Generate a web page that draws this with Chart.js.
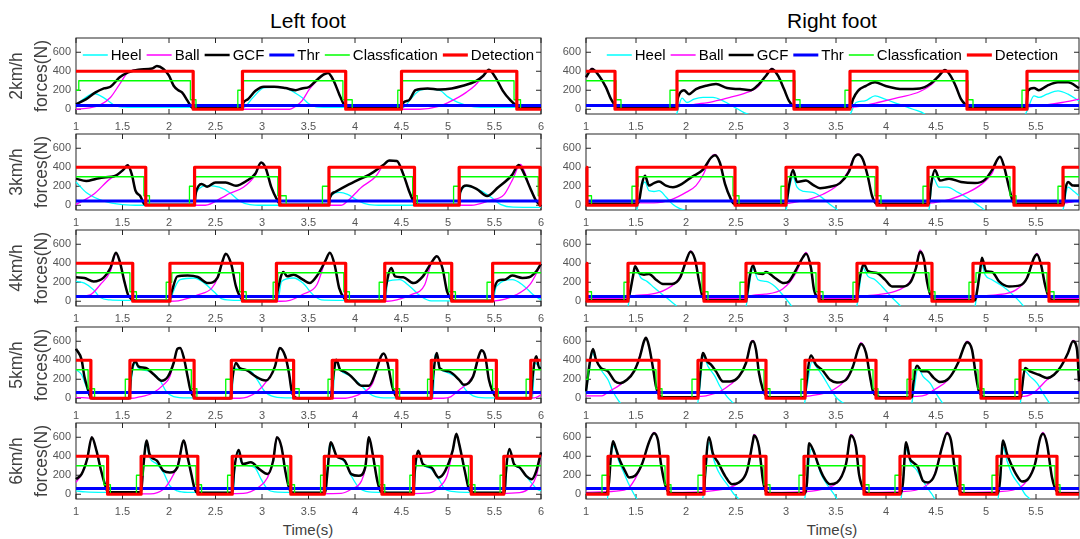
<!DOCTYPE html>
<html>
<head>
<meta charset="utf-8">
<script src="https://cdn.jsdelivr.net/npm/chart.js@4.4.1/dist/chart.umd.min.js"></script>
<style>
  body { margin: 0; background: #fff; width: 1080px; height: 539px; position: relative; overflow: hidden;
         font-family: "Liberation Sans", Arial, Helvetica, sans-serif; }
  .panel { position: absolute; }
  .lbl { position: absolute; white-space: nowrap; transform: translate(-50%, -50%); }
</style>
</head>
<body>
<div class="lbl" style="left:308px; top:21px; font-size:21px; color:#000;">Left foot</div>
<div class="lbl" style="left:832px; top:21px; font-size:21px; color:#000;">Right foot</div>
<div class="lbl" style="left:308px; top:529px; font-size:15px; color:#404040;">Time(s)</div>
<div class="lbl" style="left:832px; top:529px; font-size:15px; color:#404040;">Time(s)</div>
<div id="wrap"></div>
<script>
const FONT = '"Liberation Sans", Arial, Helvetica, sans-serif';

// axis ticks and row labels
const xTicks = [1, 1.5, 2, 2.5, 3, 3.5, 4, 4.5, 5, 5.5, 6];
const yTicks = [0, 200, 400, 600];
const speeds = ["2km/h", "3km/h", "4km/h", "5km/h", "6km/h"];
const thrLeft = [40, 45, 50, 60, 60];
const thrRight = [40, 45, 50, 60, 60];

// ---------- Left foot, 2km/h ----------
const heelL2 = [[1.0,50],[1.1,120],[1.19,166],[1.3,120],[1.4,50],[1.47,25],[1.6,20],[2.8,20],[2.9,120],[3.02,225],[3.15,230],[3.27,218],[3.36,170],[3.43,124],[3.5,60],[3.58,25],[3.7,20],[4.52,20],[4.6,110],[4.7,200],[4.8,212],[4.92,195],[5.0,130],[5.1,75],[5.25,30],[5.4,20],[6,20]];
const ballL2 = [[1.0,0],[1.15,15],[1.26,46],[1.37,124],[1.47,265],[1.56,389],[1.67,417],[1.82,428],[1.87,455],[1.94,424],[2.0,353],[2.05,247],[2.1,201],[2.14,177],[2.2,88],[2.25,15],[2.3,0],[3.3,0],[3.36,30],[3.43,88],[3.51,212],[3.58,290],[3.66,360],[3.71,380],[3.77,300],[3.83,159],[3.88,53],[3.94,5],[4.0,0],[4.7,0],[4.9,30],[5.0,70],[5.12,130],[5.2,180],[5.29,250],[5.38,350],[5.44,410],[5.51,336],[5.59,194],[5.67,95],[5.74,35],[5.8,5],[6,0]];
const gcfL2 = [[1.0,53],[1.11,106],[1.21,177],[1.3,219],[1.37,237],[1.47,336],[1.56,389],[1.67,417],[1.82,428],[1.87,455],[1.94,424],[2.0,353],[2.05,247],[2.1,201],[2.14,177],[2.2,88],[2.25,18],[2.3,10],[2.78,10],[2.8,70],[2.85,106],[2.93,194],[3.02,237],[3.13,237],[3.25,223],[3.36,201],[3.43,219],[3.51,237],[3.58,300],[3.66,364],[3.71,382],[3.77,300],[3.83,159],[3.88,53],[3.94,11],[4.0,10],[4.5,10],[4.52,70],[4.58,95],[4.65,201],[4.78,219],[4.91,208],[5.04,219],[5.16,247],[5.29,290],[5.38,353],[5.44,415],[5.51,336],[5.59,194],[5.67,95],[5.74,35],[5.8,11],[6,10]];
const clsL2 = [[1.0,200],[1.03,300],[2.23,100],[2.29,0],[2.74,200],[2.80,300],[3.87,100],[3.97,0],[4.46,200],[4.51,300],[5.71,100],[5.78,0]];
const detL2 = [[1.0,400],[2.26,0],[2.79,400],[3.90,0],[4.50,400],[5.74,0]];

// ---------- Left foot, 3km/h ----------
const heelL3 = [[1.0,245],[1.11,135],[1.3,44],[1.5,7],[1.7,0],[2.27,0],[2.29,135],[2.43,207],[2.54,190],[2.65,135],[2.76,44],[2.87,7],[3.0,0],[3.72,0],[3.73,73],[3.83,135],[3.92,115],[4.04,44],[4.15,7],[4.3,0],[5.12,0],[5.13,115],[5.2,200],[5.35,155],[5.46,87],[5.57,7],[5.7,-20],[6,-22]];
const ballL3 = [[1.0,7],[1.19,115],[1.37,280],[1.45,320],[1.51,375],[1.555,425],[1.6,325],[1.64,153],[1.69,98],[1.74,7],[1.8,0],[2.39,0],[2.57,80],[2.65,124],[2.8,190],[2.93,320],[2.99,450],[3.04,390],[3.1,190],[3.16,62],[3.2,5],[3.3,0],[3.85,0],[3.92,44],[4.07,190],[4.22,300],[4.3,415],[4.37,465],[4.45,465],[4.52,325],[4.58,153],[4.64,25],[4.7,0],[5.25,0],[5.45,51],[5.6,109],[5.69,262],[5.78,430],[5.82,360],[5.88,190],[5.95,44],[6,-10]];
const gcfL3 = [[1.0,280],[1.11,255],[1.22,280],[1.32,295],[1.41,305],[1.51,375],[1.555,420],[1.6,325],[1.64,153],[1.69,98],[1.74,7],[1.8,5],[2.27,5],[2.29,135],[2.35,225],[2.41,195],[2.5,240],[2.61,240],[2.72,205],[2.84,260],[2.93,335],[2.99,450],[3.04,390],[3.1,190],[3.16,62],[3.2,7],[3.25,5],[3.72,5],[3.73,80],[3.79,142],[3.91,207],[4.04,270],[4.15,320],[4.3,420],[4.37,470],[4.45,465],[4.52,325],[4.58,153],[4.64,25],[4.7,5],[5.12,5],[5.13,135],[5.2,207],[5.31,170],[5.42,98],[5.54,190],[5.69,320],[5.76,425],[5.8,370],[5.88,190],[5.95,44],[6.0,-10]];
const clsL3 = [[1,300],[1.73,100],[1.79,0],[2.22,200],[2.28,300],[3.17,100],[3.26,0],[3.65,200],[3.72,300],[4.62,100],[4.67,0],[5.06,200],[5.12,300],[5.97,100]];
const detL3 = [[1,400],[1.75,0],[2.275,400],[3.19,0],[3.72,400],[4.64,0],[5.12,400],[5.99,0]];

// ---------- Left foot, 4km/h ----------
const heelL4 = [[1.0,209],[1.09,191],[1.19,120],[1.26,39],[1.37,14],[1.5,10],[2.02,10],[2.04,85],[2.12,227],[2.27,245],[2.38,191],[2.48,103],[2.57,25],[2.7,10],[3.17,10],[3.21,209],[3.34,245],[3.44,191],[3.55,67],[3.64,14],[3.8,10],[4.33,10],[4.35,209],[4.48,227],[4.59,156],[4.71,50],[4.82,4],[5.0,5],[5.48,5],[5.52,156],[5.69,227],[5.8,174],[5.91,74],[6.0,14]];
const ballL4 = [[1.0,50],[1.15,67],[1.26,174],[1.37,316],[1.43,505],[1.47,420],[1.52,209],[1.56,67],[1.61,10],[1.7,0],[2.0,0],[2.1,5],[2.31,67],[2.46,138],[2.52,240],[2.57,400],[2.61,500],[2.67,387],[2.72,156],[2.78,25],[2.85,0],[3.2,0],[3.3,10],[3.44,74],[3.59,174],[3.68,420],[3.73,510],[3.78,387],[3.83,138],[3.89,25],[3.95,0],[4.35,0],[4.45,15],[4.6,67],[4.75,174],[4.82,400],[4.88,475],[4.94,350],[4.99,103],[5.03,25],[5.08,0],[5.5,5],[5.73,67],[5.88,174],[6.0,387]];
const gcfL4 = [[1.0,252],[1.09,245],[1.19,209],[1.3,252],[1.37,350],[1.43,510],[1.47,420],[1.52,209],[1.56,67],[1.61,14],[1.65,5],[2.0,5],[2.03,103],[2.09,262],[2.2,270],[2.31,255],[2.42,191],[2.52,245],[2.57,404],[2.61,500],[2.67,387],[2.72,156],[2.78,25],[2.82,5],[3.15,5],[3.17,120],[3.23,309],[3.27,262],[3.34,280],[3.44,227],[3.51,191],[3.6,280],[3.68,422],[3.73,510],[3.78,387],[3.83,138],[3.89,25],[3.93,5],[4.31,5],[4.33,138],[4.39,350],[4.43,262],[4.52,252],[4.63,191],[4.73,262],[4.82,404],[4.88,475],[4.94,350],[4.99,103],[5.03,25],[5.07,5],[5.47,5],[5.49,110],[5.54,216],[5.61,227],[5.69,270],[5.8,245],[5.87,252],[5.95,316],[6.0,394]];
const clsL4 = [[1,300],[1.58,100],[1.65,0],[1.97,200],[2.03,300],[2.76,100],[2.83,0],[3.12,200],[3.17,300],[3.88,100],[3.94,0],[4.26,200],[4.33,300],[5.01,100],[5.08,0],[5.42,200],[5.48,300]];
const detL4 = [[1,400],[1.61,0],[2.01,400],[2.79,0],[3.155,400],[3.90,0],[4.32,400],[5.04,0],[5.48,400]];

// ---------- Left foot, 5km/h ----------
const heelL5 = [[1.0,300],[1.06,250],[1.1,150],[1.15,20],[1.2,3],[1.58,3],[1.6,230],[1.64,371],[1.67,318],[1.79,283],[1.9,194],[1.97,71],[2.05,18],[2.2,5],[2.68,5],[2.69,318],[2.76,300],[2.88,283],[2.95,194],[3.03,71],[3.1,25],[3.25,5],[3.76,5],[3.79,406],[3.84,300],[3.96,230],[4.07,131],[4.15,53],[4.22,18],[4.35,5],[4.84,5],[4.86,460],[4.91,318],[5.01,265],[5.12,194],[5.19,88],[5.27,25],[5.4,5],[5.91,5],[5.93,371],[6.0,318]];
const ballL5 = [[1.0,10],[1.2,0],[1.6,0],[1.67,11],[1.82,53],[1.94,141],[2.01,230],[2.05,371],[2.09,520],[2.12,530],[2.16,424],[2.2,230],[2.23,88],[2.27,11],[2.3,0],[2.76,0],[2.84,11],[2.95,71],[3.06,194],[3.14,336],[3.19,530],[3.25,442],[3.29,265],[3.32,71],[3.36,7],[3.4,0],[3.9,0],[3.96,11],[4.07,53],[4.19,159],[4.25,350],[4.31,470],[4.35,371],[4.4,124],[4.45,11],[4.5,0],[4.95,0],[5.02,11],[5.12,88],[5.21,159],[5.29,280],[5.36,505],[5.4,442],[5.44,194],[5.48,71],[5.52,11],[5.56,0],[5.93,5],[6.0,35]];
const gcfL5 = [[1.0,520],[1.06,406],[1.09,230],[1.13,88],[1.16,5],[1.2,0],[1.57,0],[1.59,230],[1.64,389],[1.67,336],[1.75,318],[1.84,247],[1.92,184],[1.99,230],[2.05,371],[2.09,520],[2.12,530],[2.16,424],[2.2,230],[2.23,88],[2.27,11],[2.3,0],[2.66,0],[2.68,194],[2.72,371],[2.76,318],[2.84,293],[2.93,230],[3.04,187],[3.14,336],[3.19,530],[3.25,442],[3.29,265],[3.32,71],[3.36,7],[3.4,0],[3.74,0],[3.76,177],[3.8,406],[3.84,300],[3.88,283],[3.96,230],[4.07,131],[4.15,131],[4.22,265],[4.28,442],[4.31,470],[4.35,371],[4.4,124],[4.45,11],[4.5,0],[4.82,0],[4.84,230],[4.88,477],[4.91,318],[5.01,283],[5.12,194],[5.17,141],[5.27,230],[5.33,442],[5.36,505],[5.4,442],[5.44,194],[5.48,71],[5.52,11],[5.56,0],[5.89,0],[5.91,230],[5.95,442],[5.98,318],[6.0,318]];
const clsL5 = [[1,300],[1.13,100],[1.20,0],[1.53,200],[1.59,300],[2.24,100],[2.30,0],[2.61,200],[2.68,300],[3.34,100],[3.40,0],[3.71,200],[3.77,300],[4.41,100],[4.48,0],[4.78,200],[4.84,300],[5.48,100],[5.54,0],[5.84,200],[5.90,300]];
const detL5 = [[1,400],[1.16,0],[1.58,400],[2.27,0],[2.67,400],[3.34,0],[3.755,400],[4.45,0],[4.82,400],[5.52,0],[5.89,400]];

// ---------- Left foot, 6km/h ----------
const heelL6 = [[1.0,35],[1.1,25],[1.3,20],[1.7,20],[1.72,247],[1.75,548],[1.79,389],[1.87,318],[1.94,230],[2.01,88],[2.09,35],[2.2,20],[2.69,20],[2.71,300],[2.73,442],[2.79,318],[2.92,283],[2.99,159],[3.06,53],[3.14,25],[3.3,20],[3.68,20],[3.7,250],[3.73,530],[3.8,406],[3.89,336],[3.96,194],[4.04,71],[4.15,25],[4.3,20],[4.63,20],[4.65,250],[4.68,442],[4.73,318],[4.82,265],[4.9,159],[4.97,53],[5.09,25],[5.25,20],[5.61,20],[5.63,250],[5.66,459],[5.71,318],[5.78,265],[5.88,141],[5.96,53],[6.0,35]];
const ballL6 = [[1.0,124],[1.06,212],[1.12,371],[1.17,600],[1.22,459],[1.27,247],[1.31,106],[1.34,25],[1.45,7],[1.8,5],[1.94,53],[2.01,141],[2.09,300],[2.16,565],[2.2,389],[2.24,212],[2.27,78],[2.3,15],[2.4,5],[2.8,10],[2.96,71],[3.06,177],[3.12,353],[3.16,600],[3.21,495],[3.25,247],[3.29,71],[3.32,15],[3.4,5],[3.85,10],[3.96,53],[4.07,141],[4.11,270],[4.15,600],[4.19,424],[4.24,141],[4.28,25],[4.35,5],[4.8,15],[4.9,71],[4.99,194],[5.05,459],[5.09,636],[5.12,530],[5.18,247],[5.22,71],[5.25,20],[5.3,5],[5.77,18],[5.88,71],[5.95,194],[6.0,424]];
const gcfL6 = [[1.0,159],[1.06,212],[1.12,371],[1.17,600],[1.22,459],[1.27,247],[1.31,106],[1.34,28],[1.4,20],[1.7,20],[1.72,247],[1.76,565],[1.79,424],[1.87,353],[1.94,247],[2.01,230],[2.09,283],[2.16,565],[2.2,389],[2.24,212],[2.27,78],[2.3,18],[2.35,15],[2.68,15],[2.7,247],[2.75,466],[2.79,318],[2.88,336],[2.97,265],[3.06,212],[3.12,353],[3.16,600],[3.21,495],[3.25,247],[3.29,71],[3.32,18],[3.4,15],[3.68,15],[3.7,194],[3.74,548],[3.8,406],[3.89,353],[3.96,212],[4.04,194],[4.11,283],[4.15,600],[4.19,424],[4.24,141],[4.28,28],[4.35,15],[4.63,15],[4.64,212],[4.68,459],[4.73,318],[4.82,283],[4.9,177],[4.97,247],[5.05,459],[5.09,636],[5.12,530],[5.18,247],[5.22,71],[5.25,28],[5.3,15],[5.61,15],[5.62,194],[5.66,477],[5.71,318],[5.77,283],[5.84,194],[5.9,159],[5.95,247],[6.0,442]];
const clsL6 = [[1,300],[1.30,100],[1.37,0],[1.65,200],[1.72,300],[2.29,100],[2.35,0],[2.63,200],[2.69,300],[3.28,100],[3.35,0],[3.63,200],[3.68,300],[4.26,100],[4.32,0],[4.59,200],[4.64,300],[5.22,100],[5.29,0],[5.56,200],[5.61,300]];
const detL6 = [[1,400],[1.34,0],[1.70,400],[2.31,0],[2.68,400],[3.31,0],[3.67,400],[4.29,0],[4.63,400],[5.25,0],[5.60,400]];

// ---------- Right foot, 2km/h ----------
const heelR2 = [[1.0,-120],[1.88,-120],[1.91,-40],[1.96,117],[2.01,71],[2.08,106],[2.17,124],[2.27,124],[2.37,88],[2.48,25],[2.58,-35],[2.67,-71],[2.75,-120],[3.6,-120],[3.65,-35],[3.7,71],[3.79,88],[3.89,141],[3.99,106],[4.13,53],[4.27,0],[4.39,-53],[4.45,-120],[5.35,-120],[5.41,-18],[5.48,141],[5.53,124],[5.61,159],[5.72,194],[5.82,159],[5.93,88]];
const ballR2 = [[1.0,336],[1.06,430],[1.13,353],[1.2,230],[1.25,106],[1.29,40],[1.33,20],[1.9,20],[1.92,25],[2.1,53],[2.27,81],[2.44,124],[2.61,177],[2.72,237],[2.8,353],[2.86,430],[2.92,353],[2.98,212],[3.03,88],[3.08,25],[3.12,20],[3.65,20],[3.7,25],[3.92,71],[4.13,124],[4.34,187],[4.48,283],[4.53,353],[4.59,418],[4.65,343],[4.7,237],[4.75,106],[4.81,30],[4.85,20],[5.42,25],[5.6,46],[5.76,71],[5.93,106]];
const gcfR2 = [[1.0,336],[1.06,424],[1.13,353],[1.2,230],[1.25,106],[1.29,46],[1.33,11],[1.4,10],[1.9,10],[1.92,124],[1.98,201],[2.03,159],[2.1,212],[2.2,247],[2.3,265],[2.41,223],[2.54,212],[2.65,201],[2.73,265],[2.8,353],[2.86,424],[2.92,353],[2.98,212],[3.03,88],[3.08,25],[3.12,10],[3.64,10],[3.67,106],[3.72,194],[3.8,247],[3.89,283],[3.99,247],[4.17,212],[4.34,219],[4.44,265],[4.53,353],[4.59,413],[4.65,343],[4.7,237],[4.75,106],[4.81,35],[4.85,10],[5.4,10],[5.42,194],[5.48,223],[5.53,201],[5.61,247],[5.72,283],[5.82,283],[5.93,223]];
const clsR2 = [[1,300],[1.30,100],[1.35,0],[1.84,200],[1.91,300],[3.09,100],[3.14,0],[3.59,200],[3.64,300],[4.82,100],[4.87,0],[5.36,200],[5.41,300]];
const detR2 = [[1,400],[1.29,0],[1.91,400],[3.08,0],[3.64,400],[4.81,0],[5.41,400]];

// ---------- Right foot, 3km/h ----------
const heelR3 = [[1.0,-120],[1.49,-120],[1.51,-47],[1.54,135],[1.59,245],[1.63,153],[1.68,145],[1.73,153],[1.8,87],[1.87,7],[1.94,-36],[1.99,-58],[2.05,-120],[2.95,-120],[3.0,-58],[3.03,153],[3.07,300],[3.11,190],[3.18,145],[3.27,135],[3.36,80],[3.44,7],[3.51,-47],[3.56,-120],[4.4,-120],[4.43,-47],[4.47,290],[4.53,190],[4.61,190],[4.72,135],[4.82,73],[4.91,7],[4.98,-47],[5.03,-120],[5.74,-120],[5.77,-47],[5.82,190],[5.87,153],[5.93,100]];
const ballR3 = [[1.0,20],[1.5,20],[1.53,25],[1.68,25],[1.86,62],[2.0,135],[2.1,207],[2.17,318],[2.25,505],[2.29,535],[2.34,445],[2.39,225],[2.45,62],[2.48,20],[3.02,20],[3.05,25],[3.23,62],[3.37,116],[3.51,207],[3.61,335],[3.68,505],[3.72,540],[3.77,480],[3.82,295],[3.86,100],[3.91,20],[4.43,20],[4.47,25],[4.64,62],[4.82,135],[4.96,225],[5.06,335],[5.14,515],[5.18,410],[5.23,190],[5.27,36],[5.3,20],[5.79,25],[5.93,51]];
const gcfR3 = [[1.0,15],[1.5,15],[1.53,44],[1.56,225],[1.59,310],[1.63,207],[1.68,233],[1.73,250],[1.8,207],[1.87,190],[1.96,225],[2.06,300],[2.17,375],[2.25,500],[2.29,527],[2.34,445],[2.39,225],[2.45,62],[2.48,15],[3.0,15],[3.03,207],[3.07,370],[3.11,245],[3.2,260],[3.27,215],[3.34,180],[3.44,195],[3.54,233],[3.63,355],[3.68,500],[3.72,535],[3.77,480],[3.82,295],[3.86,100],[3.91,15],[4.43,15],[4.45,207],[4.49,370],[4.54,260],[4.63,280],[4.75,245],[4.89,233],[4.99,270],[5.06,370],[5.14,510],[5.18,410],[5.23,190],[5.27,36],[5.3,15],[5.78,15],[5.79,135],[5.82,245],[5.87,207],[5.93,207]];
const clsR3 = [[1,100],[1.055,0],[1.46,200],[1.52,300],[2.47,100],[2.53,0],[2.95,200],[3.01,300],[3.89,100],[3.95,0],[4.37,200],[4.43,300],[5.24,100],[5.30,0],[5.72,200],[5.78,300]];
const detR3 = [[1,400],[1.01,0],[1.51,400],[2.49,0],[3.0,400],[3.91,0],[4.42,400],[5.28,0],[5.77,400]];

// ---------- Right foot, 4km/h ----------
const heelR4 = [[1.0,-120],[1.4,-120],[1.42,-57],[1.46,209],[1.49,350],[1.55,245],[1.61,209],[1.68,145],[1.77,67],[1.86,-11],[1.91,-57],[1.95,-120],[2.57,-120],[2.6,-57],[2.65,280],[2.67,350],[2.72,227],[2.8,209],[2.89,156],[2.98,50],[3.06,-57],[3.1,-120],[3.68,-120],[3.71,-40],[3.77,350],[3.82,262],[3.89,227],[3.96,156],[4.05,50],[4.15,-57],[4.2,-120],[4.86,-120],[4.89,-57],[4.955,400],[4.99,280],[5.06,227],[5.17,156],[5.27,67],[5.38,-57],[5.42,-120],[5.93,-120]];
const ballR4 = [[1.0,30],[1.42,30],[1.45,50],[1.65,74],[1.79,120],[1.92,227],[2.0,420],[2.045,530],[2.09,440],[2.13,213],[2.16,67],[2.19,30],[2.6,30],[2.62,50],[2.79,74],[2.97,131],[3.1,298],[3.17,470],[3.2,515],[3.25,350],[3.28,120],[3.33,30],[3.71,30],[3.75,50],[3.9,67],[4.13,120],[4.24,209],[4.3,355],[4.34,540],[4.38,440],[4.41,209],[4.46,32],[4.5,30],[4.9,30],[4.93,50],[5.1,67],[5.3,120],[5.41,245],[5.48,460],[5.51,505],[5.55,387],[5.59,174],[5.63,39],[5.67,30],[5.93,30]];
const gcfR4 = [[1.0,10],[1.41,10],[1.43,50],[1.47,262],[1.49,368],[1.53,298],[1.58,280],[1.63,287],[1.7,227],[1.77,182],[1.86,182],[1.94,245],[2.0,422],[2.045,521],[2.09,440],[2.13,213],[2.16,67],[2.19,14],[2.25,10],[2.6,10],[2.61,67],[2.64,280],[2.67,379],[2.7,298],[2.77,287],[2.8,308],[2.89,245],[2.98,191],[3.03,209],[3.11,350],[3.17,464],[3.2,500],[3.25,350],[3.28,120],[3.33,25],[3.37,10],[3.71,10],[3.72,120],[3.76,350],[3.78,387],[3.82,316],[3.91,298],[3.99,227],[4.06,156],[4.17,156],[4.25,209],[4.3,350],[4.34,521],[4.38,440],[4.41,209],[4.46,32],[4.5,10],[4.89,10],[4.91,103],[4.94,316],[4.96,457],[5.0,316],[5.06,309],[5.13,209],[5.23,156],[5.34,167],[5.41,245],[5.48,457],[5.51,492],[5.55,387],[5.59,174],[5.63,39],[5.67,10],[5.93,10]];
const clsR4 = [[1,100],[1.055,0],[1.38,200],[1.43,300],[2.16,100],[2.22,0],[2.54,200],[2.60,300],[3.30,100],[3.37,0],[3.67,200],[3.72,300],[4.43,100],[4.49,0],[4.83,200],[4.90,300],[5.61,100],[5.68,0]];
const detR4 = [[1,400],[1.01,0],[1.42,400],[2.18,0],[2.60,400],[3.33,0],[3.71,400],[4.46,0],[4.87,400],[5.63,0]];

// ---------- Right foot, 5km/h ----------
const heelR5 = [[1.0,60],[1.045,380],[1.06,477],[1.1,406],[1.15,300],[1.22,194],[1.27,71],[1.32,-18],[1.36,-71],[1.4,-120],[2.1,-120],[2.14,124],[2.17,442],[2.22,336],[2.29,230],[2.34,124],[2.41,18],[2.49,-71],[2.53,-120],[3.17,-120],[3.21,124],[3.26,389],[3.3,336],[3.37,230],[3.44,106],[3.51,0],[3.6,-71],[3.65,-120],[4.24,-120],[4.28,88],[4.32,318],[4.37,230],[4.44,159],[4.51,35],[4.58,-71],[4.62,-120],[5.33,-120],[5.36,88],[5.39,283],[5.44,230],[5.51,159],[5.58,35],[5.65,-71],[5.7,-120],[5.93,-120]];
const ballR5 = [[1.0,25],[1.16,25],[1.23,71],[1.34,141],[1.44,230],[1.51,353],[1.58,600],[1.6,640],[1.63,548],[1.67,318],[1.7,124],[1.73,35],[1.77,15],[2.14,20],[2.2,25],[2.34,71],[2.44,141],[2.53,230],[2.6,371],[2.65,590],[2.67,610],[2.7,512],[2.73,265],[2.77,88],[2.8,25],[2.84,15],[3.2,20],[3.3,35],[3.44,71],[3.58,177],[3.67,336],[3.72,515],[3.75,585],[3.8,477],[3.84,230],[3.87,71],[3.91,25],[3.95,15],[4.3,20],[4.4,35],[4.48,88],[4.62,194],[4.72,371],[4.79,570],[4.81,600],[4.86,512],[4.9,230],[4.93,71],[4.96,25],[5.0,15],[5.38,20],[5.45,40],[5.51,88],[5.61,194],[5.68,247],[5.75,336],[5.82,477],[5.87,610],[5.91,512],[5.93,177]];
const gcfR5 = [[1.0,71],[1.045,424],[1.07,519],[1.1,406],[1.15,318],[1.22,283],[1.29,177],[1.34,159],[1.41,194],[1.48,283],[1.54,442],[1.58,600],[1.6,636],[1.63,548],[1.67,318],[1.7,124],[1.73,35],[1.77,10],[2.12,10],[2.14,230],[2.17,477],[2.21,389],[2.25,353],[2.3,283],[2.37,177],[2.44,177],[2.53,230],[2.6,371],[2.65,583],[2.67,600],[2.7,512],[2.73,265],[2.77,88],[2.8,25],[2.84,10],[3.19,10],[3.2,124],[3.25,449],[3.3,353],[3.36,300],[3.44,194],[3.51,166],[3.6,194],[3.67,336],[3.72,512],[3.75,572],[3.8,477],[3.84,230],[3.87,71],[3.91,25],[3.95,10],[4.26,10],[4.27,124],[4.31,343],[4.36,283],[4.41,283],[4.48,212],[4.54,170],[4.63,212],[4.72,371],[4.79,565],[4.81,590],[4.86,512],[4.9,230],[4.93,71],[4.96,25],[5.0,10],[5.35,10],[5.36,106],[5.39,318],[5.44,283],[5.53,247],[5.61,212],[5.68,247],[5.75,336],[5.82,477],[5.87,600],[5.91,512],[5.93,177]];
const clsR5 = [[1,200],[1.02,300],[1.70,100],[1.76,0],[2.06,200],[2.12,300],[2.78,100],[2.84,0],[3.15,200],[3.20,300],[3.87,100],[3.92,0],[4.21,200],[4.27,300],[4.92,100],[4.98,0],[5.29,200],[5.34,300]];
const detR5 = [[1,400],[1.73,0],[2.12,400],[2.80,0],[3.19,400],[3.90,0],[4.24,400],[4.95,0],[5.34,400]];

// ---------- Right foot, 6km/h ----------
const heelR6 = [[1.0,-120],[1.2,-120],[1.22,0],[1.25,389],[1.28,512],[1.32,371],[1.37,247],[1.42,124],[1.48,0],[1.51,-53],[1.55,-120],[2.15,-120],[2.19,141],[2.23,548],[2.27,389],[2.32,247],[2.41,106],[2.48,0],[2.53,-53],[2.57,-120],[3.17,-120],[3.21,124],[3.25,477],[3.3,371],[3.35,212],[3.42,88],[3.48,0],[3.51,-53],[3.55,-120],[4.13,-120],[4.17,106],[4.2,477],[4.25,318],[4.3,265],[4.36,159],[4.41,71],[4.46,0],[4.49,-53],[4.53,-120],[5.1,-120],[5.14,106],[5.17,495],[5.21,353],[5.26,212],[5.34,88],[5.39,0],[5.44,-53],[5.48,-120],[5.93,-120]];
const ballR6 = [[1.0,20],[1.22,28],[1.41,53],[1.49,159],[1.56,318],[1.63,548],[1.68,650],[1.72,565],[1.75,318],[1.79,106],[1.82,28],[1.86,20],[2.19,28],[2.41,64],[2.53,124],[2.61,247],[2.67,570],[2.68,630],[2.73,495],[2.77,141],[2.8,28],[2.84,20],[3.2,28],[3.4,64],[3.51,124],[3.6,318],[3.65,630],[3.7,495],[3.73,212],[3.78,42],[3.82,20],[4.16,28],[4.37,71],[4.48,194],[4.56,495],[4.61,655],[4.65,565],[4.69,247],[4.73,42],[4.77,20],[5.13,28],[5.34,71],[5.43,177],[5.49,318],[5.54,583],[5.57,650],[5.61,530],[5.66,177],[5.71,28],[5.75,20],[5.93,20]];
const gcfR6 = [[1.0,5],[1.2,10],[1.23,124],[1.25,424],[1.27,558],[1.3,477],[1.34,353],[1.39,247],[1.43,177],[1.49,194],[1.56,318],[1.63,548],[1.68,643],[1.72,565],[1.75,318],[1.79,106],[1.82,28],[1.86,10],[2.18,10],[2.19,194],[2.23,600],[2.27,424],[2.32,336],[2.39,194],[2.46,106],[2.53,124],[2.61,247],[2.67,565],[2.68,618],[2.73,495],[2.77,141],[2.8,28],[2.84,10],[3.18,10],[3.21,124],[3.23,537],[3.28,442],[3.32,318],[3.37,194],[3.44,106],[3.51,124],[3.6,318],[3.65,618],[3.7,495],[3.73,212],[3.78,42],[3.82,10],[4.15,10],[4.17,124],[4.2,548],[4.24,371],[4.27,336],[4.32,283],[4.37,141],[4.42,124],[4.49,212],[4.56,495],[4.61,643],[4.65,565],[4.69,247],[4.73,42],[4.77,10],[5.12,10],[5.14,141],[5.17,565],[5.21,424],[5.25,318],[5.3,212],[5.36,134],[5.42,159],[5.49,318],[5.54,583],[5.57,636],[5.61,530],[5.66,177],[5.71,28],[5.75,10],[5.93,10]];
const clsR6 = [[1,0],[1.16,200],[1.23,300],[1.79,100],[1.85,0],[2.12,200],[2.19,300],[2.78,100],[2.84,0],[3.13,200],[3.19,300],[3.77,100],[3.83,0],[4.09,200],[4.15,300],[4.72,100],[4.78,0],[5.06,200],[5.12,300],[5.69,100],[5.74,0]];
const detR6 = [[1,0],[1.22,400],[1.82,0],[2.18,400],[2.80,0],[3.18,400],[3.78,0],[4.14,400],[4.74,0],[5.11,400],[5.71,0]];

const leftPanels = [
  [heelL2, ballL2, gcfL2, clsL2, detL2],
  [heelL3, ballL3, gcfL3, clsL3, detL3],
  [heelL4, ballL4, gcfL4, clsL4, detL4],
  [heelL5, ballL5, gcfL5, clsL5, detL5],
  [heelL6, ballL6, gcfL6, clsL6, detL6]
];
const rightPanels = [
  [heelR2, ballR2, gcfR2, clsR2, detR2],
  [heelR3, ballR3, gcfR3, clsR3, detR3],
  [heelR4, ballR4, gcfR4, clsR4, detR4],
  [heelR5, ballR5, gcfR5, clsR5, detR5],
  [heelR6, ballR6, gcfR6, clsR6, detR6]
];

// layout of the subplot grid
const rowTops = [38, 134, 230, 327, 423];
const PLOT_H = 76, PAD_TOP = 5, X_AXIS_H = 22;
const cols = [
  { left: 0,   yw: 76, plotW: 465, padR: 6, xmax: 6 },
  { left: 546, yw: 40, plotW: 493, padR: 1, xmax: 5.93 }
];

// box with inward ticks, like the original figure
const boxPlugin = {
  id: "box",
  beforeDatasetsDraw(chart) {
    const { ctx, chartArea: a, scales: { x, y } } = chart;
    ctx.save();
    ctx.strokeStyle = "#262626";
    ctx.lineWidth = 1;
    ctx.strokeRect(a.left, a.top, a.right - a.left, a.bottom - a.top);
    ctx.beginPath();
    x.ticks.forEach(t => {
      const px = x.getPixelForValue(t.value);
      ctx.moveTo(px, a.bottom); ctx.lineTo(px, a.bottom - 5);
      ctx.moveTo(px, a.top); ctx.lineTo(px, a.top + 5);
    });
    y.ticks.forEach(t => {
      const py = y.getPixelForValue(t.value);
      ctx.moveTo(a.left, py); ctx.lineTo(a.left + 5, py);
      ctx.moveTo(a.right, py); ctx.lineTo(a.right - 5, py);
    });
    ctx.stroke();
    ctx.restore();
  }
};

// legend drawn inside the plot area (top row only)
const legendPlugin = {
  id: "inLegend",
  afterDraw(chart) {
    const { ctx, chartArea: a } = chart;
    const sets = chart.data.datasets;
    const LINE = 25, GAP = 3, SEP = 5;
    ctx.save();
    ctx.font = "15px " + FONT;
    const widths = sets.map(d => LINE + GAP + ctx.measureText(d.label).width);
    const total = widths.reduce((s, w) => s + w, 0) + SEP * (sets.length - 1);
    let x = (a.left + a.right) / 2 - total / 2;
    const y = Math.round(a.top + 17);
    sets.forEach((d, i) => {
      ctx.strokeStyle = d.borderColor;
      ctx.lineWidth = Math.max(1.5, d.borderWidth);
      ctx.beginPath(); ctx.moveTo(x, y); ctx.lineTo(x + LINE, y); ctx.stroke();
      ctx.fillStyle = "#000";
      ctx.textAlign = "left";
      ctx.textBaseline = "middle";
      ctx.fillText(d.label, x + LINE + GAP, y + 1);
      x += widths[i] + SEP;
    });
    ctx.restore();
  }
};

function stepData(steps, xmax) {
  return steps.concat([[xmax, steps[steps.length - 1][1]]]);
}

function makePanel(colIdx, row, series, thr) {
  const c = cols[colIdx];
  const [heel, ball, gcf, cls, det] = series;
  const div = document.createElement("div");
  div.className = "panel";
  div.style.left = c.left + "px";
  div.style.top = (rowTops[row] - PAD_TOP) + "px";
  div.style.width = (c.yw + c.plotW + c.padR) + "px";
  div.style.height = (PAD_TOP + PLOT_H + X_AXIS_H) + "px";
  const canvas = document.createElement("canvas");
  div.appendChild(canvas);
  document.getElementById("wrap").appendChild(div);

  const clip = { left: 1, top: 1, right: 1, bottom: 0 };
  new Chart(canvas.getContext("2d"), {
    type: "line",
    data: {
      datasets: [
        { label: "Heel", data: heel, borderColor: "#00ffff", borderWidth: 1.3, cubicInterpolationMode: "monotone", order: 6, clip },
        { label: "Ball", data: ball, borderColor: "#ff00ff", borderWidth: 1.3, cubicInterpolationMode: "monotone", order: 5, clip },
        { label: "GCF", data: gcf, borderColor: "#000000", borderWidth: 2.5, cubicInterpolationMode: "monotone", order: 4, clip },
        { label: "Thr", data: [[1, thr], [c.xmax, thr]], borderColor: "#0000ff", borderWidth: 3, order: 3, clip },
        { label: "Classfication", data: stepData(cls, c.xmax), borderColor: "#00ff00", borderWidth: 1.3, stepped: "before", order: 2, clip },
        { label: "Detection", data: stepData(det, c.xmax), borderColor: "#ff0000", borderWidth: 3.2, stepped: "before", order: 1, clip }
      ]
    },
    options: {
      responsive: true,
      maintainAspectRatio: false,
      animation: false,
      devicePixelRatio: 1,
      layout: { padding: { top: PAD_TOP, right: c.padR, bottom: 0, left: 0 } },
      elements: { point: { radius: 0 }, line: { borderJoinStyle: "round", fill: false } },
      plugins: { legend: { display: false }, tooltip: { enabled: false } },
      scales: {
        x: {
          type: "linear", min: 1, max: c.xmax,
          grid: { display: false, drawTicks: false },
          border: { display: false },
          afterBuildTicks: s => { s.ticks = xTicks.filter(v => v <= c.xmax + 1e-9).map(v => ({ value: v })); },
          afterFit: s => { s.height = X_AXIS_H; s.paddingLeft = 0; s.paddingRight = 0; },
          ticks: { padding: 6, maxRotation: 0, autoSkip: false, color: "#555", font: { size: 11, family: FONT },
                   callback: v => String(v) }
        },
        y: {
          type: "linear", min: -50, max: 750,
          grid: { display: false, drawTicks: false },
          border: { display: false },
          afterBuildTicks: s => { s.ticks = yTicks.map(v => ({ value: v })); },
          afterFit: s => { s.width = c.yw; s.paddingTop = 0; s.paddingBottom = 0; },
          ticks: { padding: 5, color: "#555", font: { size: 11, family: FONT }, callback: v => String(v) },
          title: colIdx === 0
            ? { display: true, text: [speeds[row], "forces(N)"], color: "#404040",
                font: { size: 17.5, family: FONT, lineHeight: 1.43 }, padding: { top: 4.5, bottom: 0 } }
            : { display: false }
        }
      }
    },
    plugins: row === 0 ? [boxPlugin, legendPlugin] : [boxPlugin]
  });
}

for (let r = 0; r < 5; r++) {
  makePanel(0, r, leftPanels[r], thrLeft[r]);
  makePanel(1, r, rightPanels[r], thrRight[r]);
}
</script>
</body>
</html>
